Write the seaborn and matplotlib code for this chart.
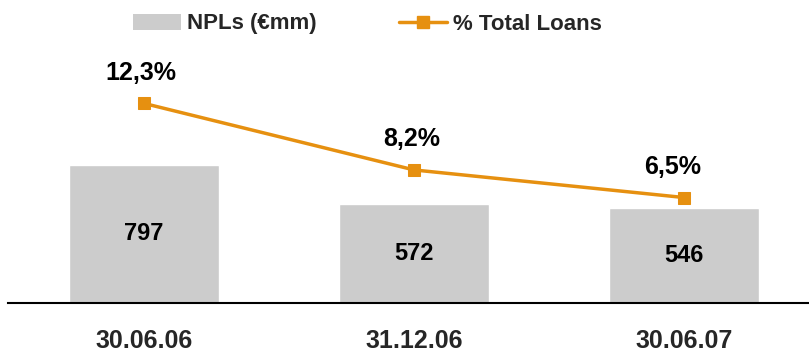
import matplotlib
matplotlib.use("Agg")
import matplotlib.pyplot as plt
from matplotlib.patches import Patch
from matplotlib.lines import Line2D
import seaborn as sns
import pandas as pd

# Reporting dates and the two series
periods = ["30.06.06", "31.12.06", "30.06.07"]
npls_mm = [797, 572, 546]
pct_total_loans = [12.3, 8.2, 6.5]
pct_labels = ["12,3%", "8,2%", "6,5%"]

BAR_GRAY = "#CCCCCC"
ORANGE = "#E69010"

sns.set_theme(style="white")
plt.rcParams["font.family"] = ["Liberation Sans", "DejaVu Sans"]
plt.rcParams["font.weight"] = "bold"

df = pd.DataFrame({"period": periods, "npls": npls_mm, "pct": pct_total_loans})

fig = plt.figure(figsize=(8.09, 3.54), dpi=100)
ax = fig.add_axes([8 / 809, 1 - 303 / 354, 801 / 809, 258 / 354])

sns.barplot(data=df, x="period", y="npls", color=BAR_GRAY, width=0.556,
            saturation=1, ax=ax, zorder=1)
ax.set_ylim(0, 1490)
ax.set_xlim(-0.504, 2.463)

for i, v in enumerate(npls_mm):
    ax.text(i, v / 2, f"{v}", ha="center", va="center", fontsize=17,
            fontweight="bold", color="black")

ax2 = ax.twinx()
sns.lineplot(data=df, x="period", y="pct", color=ORANGE, linewidth=2.5,
             marker="s", markersize=8, markeredgecolor=ORANGE, ax=ax2,
             sort=False, zorder=3)
ax2.set_ylim(0, 15.9)

offsets = [-2, -2, -8]
for i, (v, lab) in enumerate(zip(pct_total_loans, pct_labels)):
    ax2.annotate(lab, (i, v), xytext=(offsets[i], 22), textcoords="offset points",
                 ha="center", va="center", fontsize=18, fontweight="bold",
                 color="black")

for a in (ax, ax2):
    a.set_ylabel("")
    a.set_yticks([])
    for side in ("top", "right", "left"):
        a.spines[side].set_visible(False)
ax2.spines["bottom"].set_visible(False)
ax.spines["bottom"].set_color("black")
ax.spines["bottom"].set_linewidth(1.5)
ax.set_xlabel("")
ax.tick_params(axis="x", length=0, pad=19, labelsize=18)
for t in ax.get_xticklabels():
    t.set_fontweight("bold")

handles = [
    Patch(facecolor=BAR_GRAY, edgecolor="none", label="NPLs (€mm)"),
    Line2D([0], [0], color=ORANGE, linewidth=2.5, marker="s", markersize=8,
           label="% Total Loans"),
]
fig.legend(handles=handles, loc="center left", bbox_to_anchor=(133 / 809, 1 - 24 / 354),
           ncol=2, frameon=False, handlelength=2.16, handleheight=0.75,
           columnspacing=3.7, handletextpad=0.27, borderpad=0, borderaxespad=0,
           prop={"weight": "bold", "size": 16})

fig.savefig("out.png", dpi=100)
